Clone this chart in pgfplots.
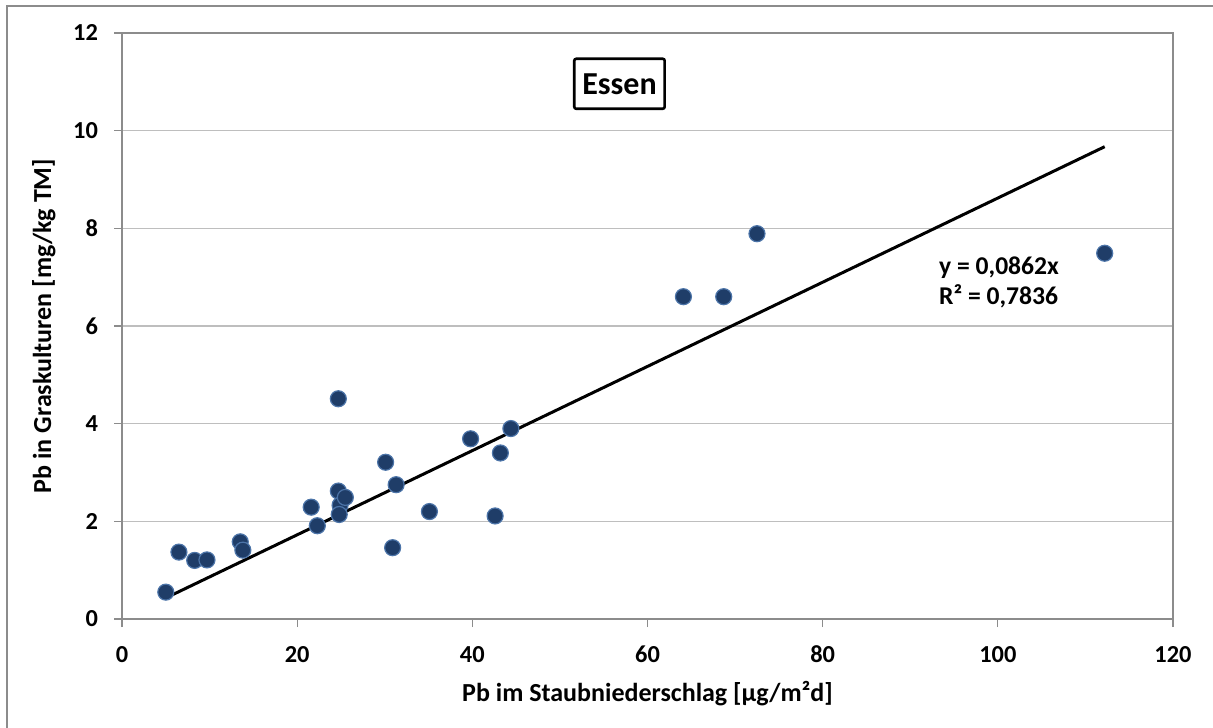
\documentclass[border=0pt]{standalone}
\usepackage{pgfplots}
\pgfplotsset{compat=1.18}
\usepackage{fontspec}
\setmainfont{Carlito}
\definecolor{mfill}{HTML}{1F3D68}
\definecolor{medge}{HTML}{4C74A8}
\definecolor{gridc}{RGB}{190,190,190}
\definecolor{axc}{RGB}{140,140,140}
\begin{document}
\begin{tikzpicture}
\useasboundingbox (-61pt,-54pt) rectangle (545.5pt,309.5pt);
\draw[axc, line width=0.9pt] (-57.5pt,-60pt) -- (-57.5pt,306.5pt) -- (560pt,306.5pt);
\begin{axis}[
  scale only axis,
  width=525.5pt, height=293pt,
  xmin=0, xmax=120, ymin=0, ymax=12,
  xtick={0,20,...,120}, ytick={0,2,...,12},
  axis line style={axc, line width=0.6pt},
  tick style={axc, line width=0.6pt},
  tick align=outside,
  major tick length=4pt,
  xtick pos=bottom, ytick pos=left,
  ymajorgrids, grid style={gridc, line width=0.6pt},
  /pgf/number format/assume math mode=true,
  ticklabel style={font=\fontsize{12.2}{14}\selectfont\bfseries},
  xticklabel style={yshift=-6pt},
  yticklabel style={xshift=-4.5pt},
  xlabel={Pb im Staubniederschlag [µg/m²d]},
  ylabel={Pb in Graskulturen [mg/kg TM]},
  label style={font=\fontsize{13}{15}\selectfont\bfseries},
  xlabel style={yshift=-2pt},
  ylabel style={yshift=2pt},
  clip=false,
]
\addplot[only marks, mark=*, mark size=4pt, mark options={fill=mfill, draw=medge, line width=0.6pt}] coordinates {
(5.0,0.55) (6.5,1.37) (8.3,1.20) (9.7,1.21) (13.5,1.58) (13.8,1.41)
(21.6,2.29) (22.3,1.91) (24.7,4.51) (24.7,2.62) (24.9,2.33) (24.8,2.14)
(25.5,2.49) (30.1,3.21) (31.3,2.75) (30.9,1.46) (35.1,2.20) (39.8,3.69)
(42.6,2.11) (43.2,3.40) (44.4,3.90) (64.1,6.60) (68.7,6.60) (72.5,7.89)
(112.2,7.49)
};
\addplot[black, line width=1.5pt, no marks] coordinates {(5.0,0.431) (112.2,9.672)};
\node[draw=black, line width=1.3pt, rounded corners=1pt, fill=white, inner sep=4pt, minimum height=25pt,
  font=\fontsize{16}{18}\selectfont\bfseries] at (axis cs:56.8,10.96) {Essen};
\node[anchor=west, align=left, font=\fontsize{12.8}{15}\selectfont\bfseries] at (axis cs:92.5,6.9) {y = 0,0862x\\R² = 0,7836};
\end{axis}
\end{tikzpicture}
\end{document}
